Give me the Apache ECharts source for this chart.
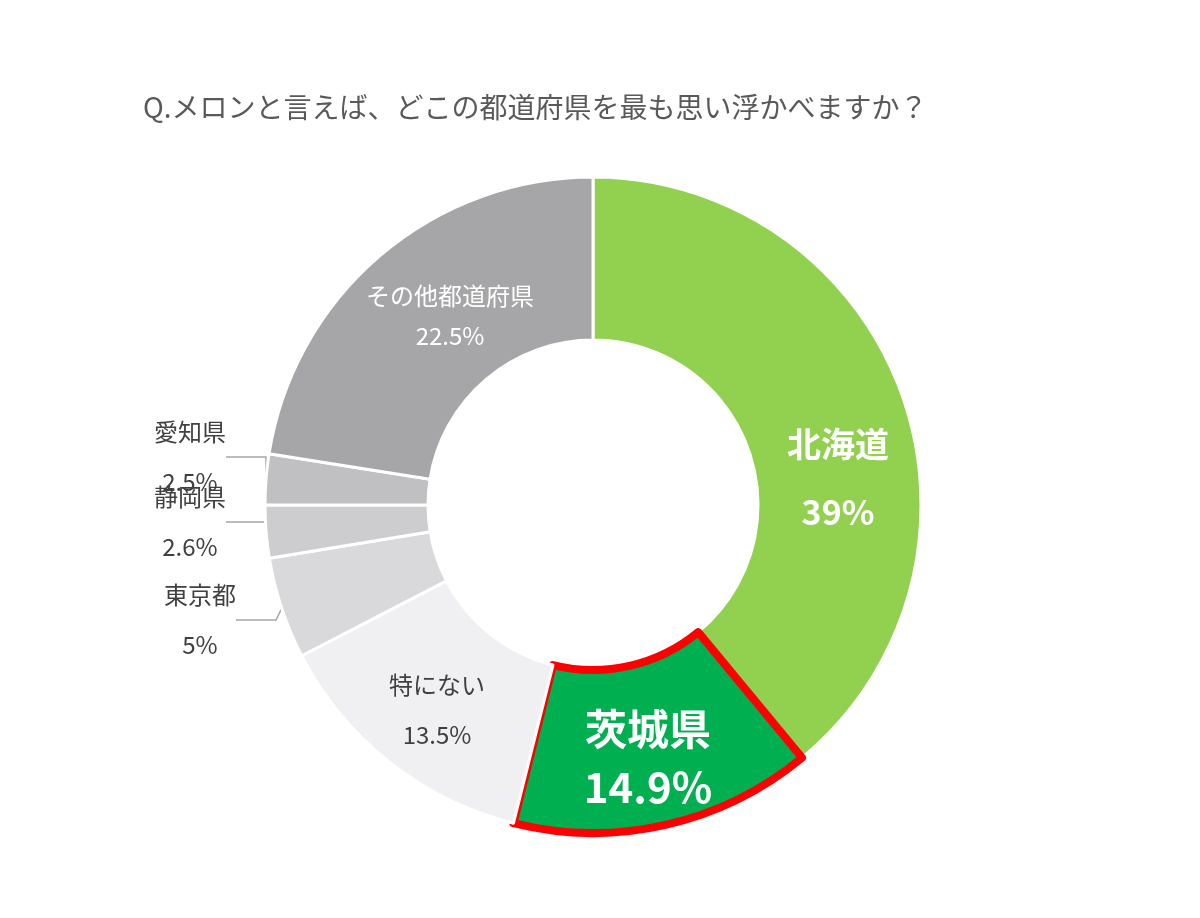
<!DOCTYPE html>
<html><head><meta charset="utf-8">
<script src="https://cdn.jsdelivr.net/npm/echarts@6/dist/echarts.min.js"></script>
<style>html,body{margin:0;background:#fff}#c{width:1200px;height:918px}</style>
</head><body><div id="c"></div>
<script>
const names = ['北海道','茨城県','特にない','東京都','静岡県','愛知県','その他都道府県'];
const values = [39.0,14.9,13.5,5.0,2.6,2.5,22.5];
const colors = ['#92d050','#00b050','#f0eff2','#d9d9db','#cdcdcf','#c0c0c2','#a6a5a7'];
const font = '"Noto Sans CJK JP", "Noto Sans", sans-serif';
const insideLabels = {
  0:{color:'#fff',fontSize:34,fontWeight:'bold',lineHeight:68},
  1:{color:'#fff',fontSize:42,fontWeight:'bold',lineHeight:58},
  2:{color:'#404040',fontSize:24,lineHeight:50},
  6:{color:'#fff',fontSize:24,lineHeight:40}
};
const outsidePos = {3:[200,620],4:[190,522],5:[190,457]};
const data = names.map((n,i)=>{
  const d = {name:n,value:values[i],itemStyle:{color:colors[i]}};
  if (insideLabels[i]) {
    d.label = Object.assign({show:true,position:'inside',fontFamily:font,formatter:'{b}\n{c}%'}, insideLabels[i]);
    d.labelLine = {show:false};
  } else {
    d.label = {show:true,position:'outside',fontFamily:font,color:'#404040',fontSize:24,lineHeight:50,formatter:'{b}\n{c}%'};
    d.labelLine = {show:true,length:20,length2:40,lineStyle:{color:'#a6a6a6',width:1.5}};
  }
  if (i===1) d.itemStyle = {color:colors[i],borderColor:'#ff0000',borderWidth:8};
  return d;
});
const chart = echarts.init(document.getElementById('c'));
chart.setOption({
  animation:false,
  title:{text:'Q.メロンと言えば、どこの都道府県を最も思い浮かべますか？',left:138,top:88,
    textStyle:{fontFamily:font,fontSize:28,fontWeight:'normal',color:'#595959'}},
  series:[{
    type:'pie',center:[593,505],radius:[165,328],startAngle:90,clockwise:true,
    itemStyle:{borderColor:'#fff',borderWidth:3},
    data:data,
    labelLayout:function(p){
      const pos = outsidePos[p.dataIndex];
      if (pos) return {x:pos[0],y:pos[1],align:'center',verticalAlign:'middle'};
      if (p.dataIndex===0) return {x:838,y:478};
      if (p.dataIndex===1) return {x:648,y:758};
      if (p.dataIndex===2) return {x:437,y:710};
      if (p.dataIndex===6) return {x:450,y:316};
    }
  }]
});
</script></body></html>
